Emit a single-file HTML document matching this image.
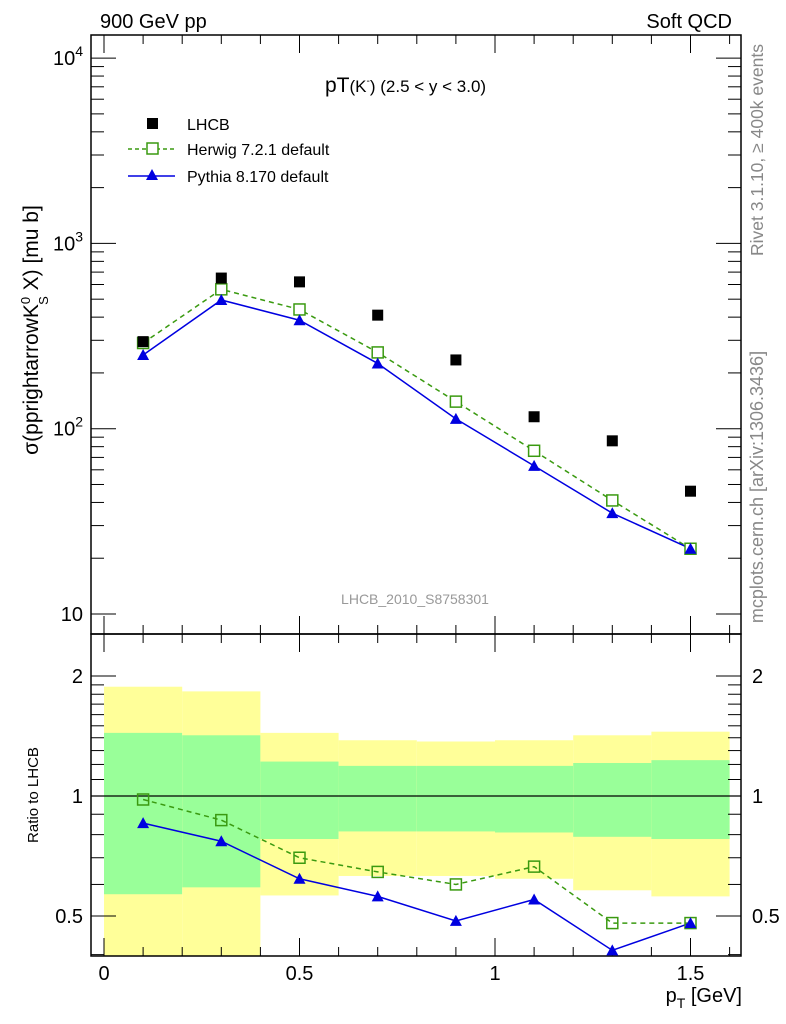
<!DOCTYPE html>
<html><head><meta charset="utf-8"><style>
body{margin:0;background:#fff}
svg{display:block;font-family:"Liberation Sans",sans-serif}
</style></head><body>
<svg id="c" width="786" height="1024" viewBox="0 0 786 1024">
<g id="bands"></g>
<g id="axes"></g>
<g id="series"></g>
<text x="100" y="28" font-size="20">900 GeV pp</text>
<text x="732" y="28" font-size="20" text-anchor="end">Soft QCD</text>
<text x="325" y="92" font-size="21">pT<tspan font-size="17">(K</tspan><tspan font-size="10" dy="-8">-</tspan><tspan font-size="17" dy="8">)</tspan><tspan font-size="17"> (2.5 &lt; y &lt; 3.0)</tspan></text>
<text transform="translate(38,330) rotate(-90)" font-size="21" text-anchor="middle">σ(pprightarrowK<tspan font-size="13" dy="-8">0</tspan><tspan font-size="13" dx="-8" dy="18">S</tspan><tspan dy="-10"> X) [mu b]</tspan></text>
<text transform="translate(38,795) rotate(-90)" font-size="15" text-anchor="middle">Ratio to LHCB</text>
<text x="742" y="1002" font-size="20" text-anchor="end">p<tspan font-size="14" dy="6">T</tspan><tspan dy="-6"> [GeV]</tspan></text>
<text transform="translate(763,150) rotate(-90)" font-size="17.5" fill="#888" text-anchor="middle">Rivet 3.1.10, ≥ 400k events</text>
<text transform="translate(763,487) rotate(-90)" font-size="18" fill="#888" text-anchor="middle">mcplots.cern.ch [arXiv:1306.3436]</text>
<text x="415" y="604" font-size="14" fill="#999" text-anchor="middle">LHCB_2010_S8758301</text>
<g>
<rect x="147" y="118" width="11" height="11" fill="#000"/>
<text x="187" y="130" font-size="16">LHCB</text>
<line x1="128" y1="149" x2="175" y2="149" stroke="#3a9a10" stroke-width="1.5" stroke-dasharray="4,3"/>
<rect x="147" y="143" width="11" height="11" fill="#fff" stroke="#3a9a10" stroke-width="1.5"/>
<text x="187" y="155" font-size="16">Herwig 7.2.1 default</text>
<line x1="128" y1="176" x2="175" y2="176" stroke="#0000e0" stroke-width="1.5"/>
<polygon points="152,169 158,180 146,180" fill="#0000e0"/>
<text x="187" y="182" font-size="16">Pythia 8.170 default</text>
</g>
</svg>
<script>
const xVals=[0.1,0.3,0.5,0.7,0.9,1.1,1.3,1.5];
const lhcb=[295,650,620,410,235,116,86,46];
const herwig=[290,565,440,258,140,76,41,22.5];
const pythia=[250,495,385,225,113,63,35,22.5];
const herwigRatio=[0.98,0.87,0.70,0.645,0.60,0.665,0.48,0.48];
const pythiaRatio=[0.855,0.77,0.62,0.56,0.486,0.55,0.41,0.48];
const binEdges=[0,0.2,0.4,0.6,0.8,1.0,1.2,1.4,1.6];
const yellowHi=[1.88,1.83,1.44,1.38,1.37,1.38,1.42,1.45];
const yellowLo=[0.3,0.3,0.563,0.63,0.63,0.62,0.58,0.56];
const greenHi=[1.44,1.42,1.22,1.19,1.19,1.19,1.21,1.23];
const greenLo=[0.567,0.59,0.78,0.815,0.815,0.81,0.79,0.78];
const xTicks=[0,0.5,1,1.5];
const xTickLabels=["0","0.5","1","1.5"];

const NS="http://www.w3.org/2000/svg";
const L=91,R=741,T=35,MID=634,B=956;
const X=v=>104+391*v;
const Y=v=>614-185.3*Math.log10(v/10);
const YR=r=>796-120*Math.log2(r);
function mk(p,tag,at){const e=document.createElementNS(NS,tag);for(const k in at)e.setAttribute(k,at[k]);p.appendChild(e);return e;}
const bands=document.getElementById('bands'),axes=document.getElementById('axes'),ser=document.getElementById('series');
const clampR=r=>Math.min(Math.max(YR(r),MID),B);
for(let i=0;i<yellowHi.length;i++){
 const x0=X(binEdges[i]),x1=X(binEdges[i+1]);
 const y=mk(bands,'rect',{x:x0,y:clampR(yellowHi[i]),width:x1-x0,height:clampR(yellowLo[i])-clampR(yellowHi[i]),fill:'#ffff99'});
 
 
 const g=mk(bands,'rect',{x:x0,y:clampR(greenHi[i]),width:x1-x0,height:clampR(greenLo[i])-clampR(greenHi[i]),fill:'#99ff99'});
 
 
}
mk(axes,'rect',{x:L,y:T,width:R-L,height:MID-T,fill:'none',stroke:'#000','stroke-width':1.5});
mk(axes,'rect',{x:L,y:MID,width:R-L,height:B-MID,fill:'none',stroke:'#000','stroke-width':1.5});
mk(axes,'line',{x1:L,x2:R,y1:YR(1),y2:YR(1),stroke:'#000','stroke-width':1.2});
for(let k=0;k<=16;k++){const v=k/10,x=X(v);if(x>R)break;const maj=k%5==0,len=maj?18:9;
 [[T,1],[MID,-1],[MID,1],[B,-1]].forEach(([y0,d])=>mk(axes,'line',{x1:x,x2:x,y1:y0,y2:y0+d*len,stroke:'#000','stroke-width':1}));}
xTicks.forEach((v,i)=>{const t=mk(axes,'text',{x:X(v),y:980,'font-size':20,'text-anchor':'middle'});t.textContent=xTickLabels[i];
 
 });
for(let d=1;d<=4;d++)for(let m=1;m<10;m++){const v=m*Math.pow(10,d),y=Y(v);if(y<T||y>MID)continue;const len=m==1?25:13;
 mk(axes,'line',{x1:L,x2:L+len,y1:y,y2:y,stroke:'#000'});mk(axes,'line',{x1:R,x2:R-len,y1:y,y2:y,stroke:'#000'});}
[10,100,1000,10000].forEach(v=>{const t=mk(axes,'text',{x:83,y:Y(v)+7,'font-size':20,'text-anchor':'end'});
 t.textContent="10";if(v>10){const sp=mk(t,'tspan',{'font-size':14,dy:-9});sp.textContent=String(Math.log10(v));}
 
 });
[0.4,0.5,0.6,0.7,0.8,0.9,1,1.1,1.2,1.3,1.4,1.5,1.6,1.7,1.8,1.9,2,3].forEach(v=>{const y=YR(v);if(y<MID||y>B)return;const maj=[0.5,1,2].includes(v),len=maj?25:13;
 mk(axes,'line',{x1:L,x2:L+len,y1:y,y2:y,stroke:'#000'});mk(axes,'line',{x1:R,x2:R-len,y1:y,y2:y,stroke:'#000'});});
[[0.5,"0.5"],[1,"1"],[2,"2"]].forEach(([v,s])=>{[[83,'end'],[752,'start']].forEach(([x,a])=>{const t=mk(axes,'text',{x:x,y:YR(v)+7,'font-size':20,'text-anchor':a});t.textContent=s;
 
 });});
function line(vals,yf,col,dash){const p=vals.map((v,i)=>X(xVals[i])+','+yf(v)).join(' ');const a={points:p,fill:'none',stroke:col,'stroke-width':1.5};if(dash)a['stroke-dasharray']='5,4';return mk(ser,'polyline',a);}
function sq(vals,yf,col,fill,s,nm){vals.forEach((v,i)=>{const r=mk(ser,'rect',{x:X(xVals[i])-s/2,y:yf(v)-s/2,width:s,height:s,fill:fill,stroke:fill=='#000'?'none':col,'stroke-width':1.5});
 
 });}
function tri(vals,yf,nm){vals.forEach((v,i)=>{const x=X(xVals[i]),y=yf(v);const t=mk(ser,'polygon',{points:`${x},${y-6} ${x+6},${y+5} ${x-6},${y+5}`,fill:'#0000e0'});
 
 });}
let l;
l=line(herwig,Y,'#3a9a10',true);
l=line(pythia,Y,'#0000e0',false);
sq(herwig,Y,'#3a9a10','#fff',11,'herwig-point');
tri(pythia,Y,'pythia-point');
sq(lhcb,Y,'#000','#000',11,'lhcb-point');
l=line(herwigRatio,YR,'#3a9a10',true);
l=line(pythiaRatio,YR,'#0000e0',false);
sq(herwigRatio,YR,'#3a9a10','none',11,'herwig-ratio-point');
tri(pythiaRatio,YR,'pythia-ratio-point');
</script>
</body></html>
